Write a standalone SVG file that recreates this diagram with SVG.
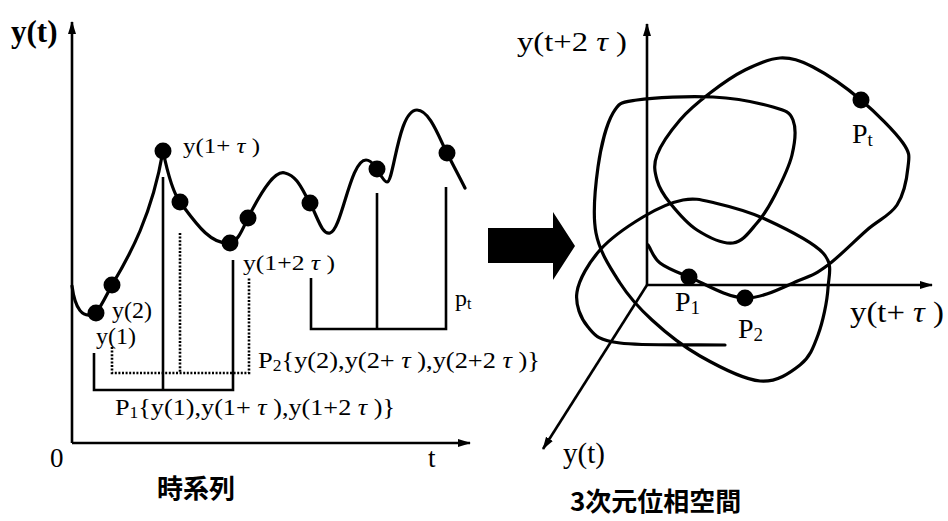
<svg xmlns="http://www.w3.org/2000/svg" width="948" height="521" viewBox="0 0 948 521">
<style>
.ln{fill:none;stroke:#000;stroke-width:3.2;stroke-linecap:round;stroke-linejoin:round}
.ax{fill:none;stroke:#000;stroke-width:2.6}
.br{fill:none;stroke:#000;stroke-width:2.6;stroke-linejoin:miter}
.dt{fill:none;stroke:#000;stroke-width:2.6;stroke-dasharray:2 1.6}
.dot{fill:#000}
.t{font-family:"Liberation Serif","Times New Roman",serif;fill:#000}
.cj{font-family:"Noto Sans CJK JP","Noto Sans CJK SC",sans-serif;font-weight:bold;fill:#000}
</style>
<defs>
<marker id="ah" markerUnits="userSpaceOnUse" markerWidth="14" markerHeight="10" refX="12" refY="5" orient="auto">
<path d="M0,1 L13,5 L0,9 z" fill="#000"/>
</marker>
</defs>
<g id="connectors">
<path class="ax" d="M72,443 V22" marker-end="url(#ah)"/>
<path class="ax" d="M72,443 H470" marker-end="url(#ah)"/>
<path class="ax" d="M647,285 V24" marker-end="url(#ah)"/>
<path class="ax" d="M647,285 H932" marker-end="url(#ah)"/>
<path class="ax" d="M647,285 L543,449" marker-end="url(#ah)"/>
<polygon points="488,228 553,228 553,212 575,246 553,280 553,263 488,263" fill="#000"/>
</g>
<g id="timeseries">
<path class="ln" d="M72,286 C75,308 82,320 96,313 C102,305 108,292 112,285 C130,255 152,215 163,151 C168,175 174,194 180,202 C195,222 210,245 230,243 C238,242 243,228 248,218 C262,190 275,170 285,173 C298,176 303,192 310,203 C318,218 322,235 330,233 C342,230 350,160 366,160 C372,160 374,166 377,169 C380,174 384,182 387,182 C394,182 398,110 417,110 C430,110 440,140 447,153 C452,163 460,178 465,188"/>
<g class="dot">
<circle cx="96" cy="313" r="8.5"/>
<circle cx="112" cy="285" r="8.5"/>
<circle cx="163" cy="151" r="8.5"/>
<circle cx="180" cy="202" r="8.5"/>
<circle cx="230" cy="243" r="8.5"/>
<circle cx="248" cy="218" r="8.5"/>
<circle cx="310" cy="203" r="8.5"/>
<circle cx="377" cy="169" r="8.5"/>
<circle cx="447" cy="153" r="8.5"/>
</g>
</g>
<g id="bracket-p1">
<path class="br" d="M94,353 V390 H233 V260"/>
<path class="br" d="M163,177 V390"/>
</g>
<g id="bracket-p2">
<path class="dt" d="M112,347 V373 H249 V278"/>
<path class="dt" d="M180,233 V373"/>
</g>
<g id="bracket-pt">
<path class="br" d="M311,278 V329 H446 V187"/>
<path class="br" d="M377,193 V329"/>
</g>
<g id="left-labels">
<text class="t" x="11" y="42" font-size="31" font-weight="bold">y(t)</text>
<text class="t" x="183" y="153" font-size="22" textLength="77" lengthAdjust="spacingAndGlyphs">y(1+ <tspan font-style="italic">τ</tspan> )</text>
<text class="t" x="112" y="318" font-size="24">y(2)</text>
<text class="t" x="96" y="344" font-size="24">y(1)</text>
<text class="t" x="243" y="270" font-size="22" textLength="92" lengthAdjust="spacingAndGlyphs">y(1+2 <tspan font-style="italic">τ</tspan> )</text>
<text class="t" x="258" y="368" font-size="24" textLength="282" lengthAdjust="spacingAndGlyphs">P<tspan font-size="16" dy="3">2</tspan><tspan dy="-3">{y(2),y(2+ <tspan font-style="italic">τ</tspan> ),y(2+2 <tspan font-style="italic">τ</tspan> )}</tspan></text>
<text class="t" x="115" y="415" font-size="24" textLength="280" lengthAdjust="spacingAndGlyphs">P<tspan font-size="16" dy="3">1</tspan><tspan dy="-3">{y(1),y(1+ <tspan font-style="italic">τ</tspan> ),y(1+2 <tspan font-style="italic">τ</tspan> )}</tspan></text>
<text class="t" x="455" y="306" font-size="24">p<tspan font-size="16" dy="3">t</tspan></text>
<text class="t" x="50" y="467" font-size="27">0</text>
<text class="t" x="428" y="467" font-size="27">t</text>
<text class="cj" x="157" y="498" font-size="26">時系列</text>
</g>
<g id="phase-space">
<path class="ln" d="M648,245 C652,251 653.2,257.7 660,263 C666.8,268.3 674.8,271.2 689,277 C703.2,282.8 726.5,297.5 745,298 C763.5,298.5 786.2,285.5 800,280 C813.8,274.5 816.8,273.3 828,265 C839.2,256.7 855.5,240 867,230 C878.5,220 890.2,215.5 897,205 C903.8,194.5 907,177.3 908,167 C909,156.7 910.8,154.2 903,143 C895.2,131.8 876,112.7 861,100 C846,87.3 826.5,74 813,67 C799.5,60 791.3,57.5 780,58 C768.7,58.5 756.7,64.2 745,70 C733.3,75.8 720.8,84.7 710,93 C699.2,101.3 688.8,109.7 680,120 C671.2,130.3 660.8,145 657,155 C653.2,165 654.8,172 657,180 C659.2,188 663.3,194.7 670,203 C676.7,211.3 686.5,223.3 697,230 C707.5,236.7 723,244.2 733,243 C743,241.8 750,231 757,223 C764,215 769.2,206.3 775,195 C780.8,183.7 789,167.5 792,155 C795,142.5 796.2,128 793,120 C789.8,112 786.3,110.8 773,107 C759.7,103.2 735.7,98.2 713,97 C690.3,95.8 653.7,97.3 637,100 C620.3,102.7 619.5,101.8 613,113 C606.5,124.2 600.8,147 598,167 C595.2,187 592.3,213.7 596,233 C599.7,252.3 610.7,268.5 620,283 C629.3,297.5 638.7,307.8 652,320 C665.3,332.2 682,345.8 700,356 C718,366.2 743.3,379.5 760,381 C776.7,382.5 790.3,372.7 800,365 C809.7,357.3 813.3,347.8 818,335 C822.7,322.2 827.2,301.7 828,288 C828.8,274.3 833.5,264.5 823,253 C812.5,241.5 783,227.3 765,219 C747,210.7 728.7,206.2 715,203 C701.3,199.8 695,197.7 683,200 C671,202.3 656.8,208.7 643,217 C629.2,225.3 611,237.5 600,250 C589,262.5 579,279.2 577,292 C575,304.8 580.8,318.5 588,327 C595.2,335.5 597.2,340 620,343 C642.8,346 690,344.3 725,345"/>
<g class="dot">
<circle cx="689" cy="277" r="8.5"/>
<circle cx="745" cy="298" r="8.5"/>
<circle cx="861" cy="100" r="8.5"/>
</g>
</g>
<g id="right-labels">
<text class="t" x="517" y="51" font-size="27" textLength="110" lengthAdjust="spacingAndGlyphs">y(t+2 <tspan font-style="italic">τ</tspan> )</text>
<text class="t" x="852" y="143" font-size="28">P<tspan font-size="19" dy="3">t</tspan></text>
<text class="t" x="675" y="311" font-size="28">P<tspan font-size="19" dy="3">1</tspan></text>
<text class="t" x="738" y="338" font-size="28">P<tspan font-size="19" dy="3">2</tspan></text>
<text class="t" x="850" y="322" font-size="29" textLength="94" lengthAdjust="spacingAndGlyphs">y(t+ <tspan font-style="italic">τ</tspan> )</text>
<text class="t" x="563" y="463" font-size="29">y(t)</text>
<text class="cj" x="570" y="511" font-size="26">3次元位相空間</text>
</g>
</svg>
